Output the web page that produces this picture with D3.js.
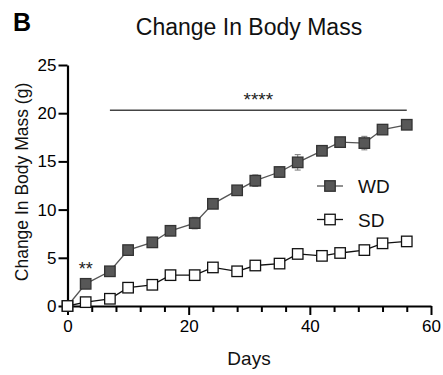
<!DOCTYPE html>
<html><head><meta charset="utf-8">
<script src="https://cdn.jsdelivr.net/npm/d3@7"></script>
<style>body{margin:0;background:#fff}svg{display:block}text{font-family:"Liberation Sans",Arial,sans-serif}</style>
</head><body>
<svg id="c" width="443" height="375"></svg>
<script>
const days = [0,3,7,10,14,17,21,24,28,31,35,38,42,45,49,52,56];
const wdMean = [0,2.3,3.6,5.8,6.6,7.8,8.6,10.6,12.0,13.0,13.9,14.9,16.1,17.0,16.9,18.3,18.8];
const wdSem  = [0.1,0.3,0.3,0.3,0.3,0.3,0.6,0.3,0.4,0.6,0.5,0.8,0.4,0.4,0.7,0.4,0.3];
const sdMean = [0,0.4,0.75,1.9,2.2,3.2,3.2,4.0,3.6,4.2,4.4,5.4,5.2,5.5,5.8,6.5,6.7];
const sdSem  = [0.1,0.2,0.2,0.3,0.3,0.3,0.3,0.3,0.3,0.3,0.3,0.3,0.3,0.3,0.3,0.3,0.3];
const yTicks = [0,5,10,15,20,25];
const xTicks = [0,20,40,60];
const xMinor = [4,8,12,16,24,28,32,36,44,48,52,56];
const series = [
  {name:"WD", mean:wdMean, sem:wdSem, fill:"#575757", stroke:"#333", line:"#555"},
  {name:"SD", mean:sdMean, sem:sdSem, fill:"#fff", stroke:"#111", line:"#111"}
];
const sig = [{x0:7, x1:56, y:20.3, label:"****"}, {x0:3, x1:3, y:4.2, label:"**"}];

const svg = d3.select("#c");
const x = d3.scaleLinear().domain([0,60]).range([67.5,431]);
const y = d3.scaleLinear().domain([0,25]).range([306,65]);

// axes
const ya = svg.append("g").attr("transform","translate(67.5,0)")
  .call(d3.axisLeft(y).tickValues(yTicks).tickSize(9).tickPadding(2).tickSizeOuter(0));
ya.select(".domain").attr("stroke","#000").attr("stroke-width",2.2);
ya.selectAll(".tick line").attr("stroke-width",2);
ya.selectAll("text").attr("font-size",17).attr("fill","#000").attr("font-family","'Liberation Sans',Arial,sans-serif");

const xm = svg.append("g").attr("transform","translate(0,306)")
  .call(d3.axisBottom(x).tickValues(xMinor).tickSize(6).tickFormat("").tickSizeOuter(0));
xm.select(".domain").remove();
xm.selectAll(".tick line").attr("stroke-width",2);
const xa = svg.append("g").attr("transform","translate(0,306)")
  .call(d3.axisBottom(x).tickValues(xTicks).tickSize(9).tickPadding(5).tickSizeOuter(0));
xa.select(".domain").attr("stroke","#000").attr("stroke-width",2.2);
xa.selectAll(".tick line").attr("stroke-width",2);
xa.selectAll("text").attr("font-size",17).attr("fill","#000").attr("font-family","'Liberation Sans',Arial,sans-serif");

// series
const line = d3.line().x((d,i)=>x(days[i])).y(d=>y(d));
const ms = 10.5;
series.forEach(s=>{
  svg.append("path").datum(s.mean).attr("d",line).attr("fill","none").attr("stroke",s.line).attr("stroke-width",1.3);
  const g = svg.append("g");
  g.selectAll("line.eb").data(s.mean).join("line")
    .attr("x1",(d,i)=>x(days[i])).attr("x2",(d,i)=>x(days[i]))
    .attr("y1",(d,i)=>y(d+s.sem[i])).attr("y2",(d,i)=>y(d-s.sem[i]))
    .attr("stroke","#777").attr("stroke-width",1);
  g.selectAll("line.cap").data(s.mean.flatMap((d,i)=>[[i,d+s.sem[i]],[i,d-s.sem[i]]])).join("line")
    .attr("x1",d=>x(days[d[0]])-3).attr("x2",d=>x(days[d[0]])+3)
    .attr("y1",d=>y(d[1])).attr("y2",d=>y(d[1]))
    .attr("stroke","#777").attr("stroke-width",1);
  g.selectAll("rect").data(s.mean).join("rect")
    .attr("x",(d,i)=>x(days[i])-ms/2).attr("y",d=>y(d)-ms/2)
    .attr("width",ms).attr("height",ms)
    .attr("fill",s.fill).attr("stroke",s.stroke).attr("stroke-width",1.3);
});

// significance
svg.append("line").attr("x1",x(sig[0].x0)).attr("x2",x(sig[0].x1))
  .attr("y1",y(sig[0].y)).attr("y2",y(sig[0].y)).attr("stroke","#444").attr("stroke-width",1.5);
svg.append("text").attr("x",(x(sig[0].x0)+x(sig[0].x1))/2).attr("y",y(sig[0].y)-4)
  .attr("text-anchor","middle").attr("font-size",19).attr("fill","#222").text(sig[0].label);
svg.append("text").attr("x",x(sig[1].x0)).attr("y",y(sig[1].y)+9)
  .attr("text-anchor","middle").attr("font-size",18).attr("fill","#222").text(sig[1].label);

// legend
series.forEach((s,i)=>{
  const ly = 186 + i*33.5, lx = 330;
  svg.append("line").attr("x1",lx-13).attr("x2",lx+13).attr("y1",ly).attr("y2",ly).attr("stroke",s.line).attr("stroke-width",1.3);
  svg.append("rect").attr("x",lx-ms/2).attr("y",ly-ms/2).attr("width",ms).attr("height",ms)
    .attr("fill",s.fill).attr("stroke",s.stroke).attr("stroke-width",1.3);
  svg.append("text").attr("x",358).attr("y",ly+7).attr("font-size",19).attr("fill","#111").text(s.name);
});

// titles
svg.append("text").attr("x",13).attr("y",31).attr("font-size",25).attr("font-weight","bold").text("B");
svg.append("text").attr("x",249).attr("y",35).attr("text-anchor","middle").attr("font-size",23).attr("fill","#111").text("Change In Body Mass");
svg.append("text").attr("x",249).attr("y",365).attr("text-anchor","middle").attr("font-size",19).attr("fill","#111").text("Days");
svg.append("text").attr("transform","translate(28,182) rotate(-90)").attr("text-anchor","middle")
  .attr("font-size",17.5).attr("fill","#111").text("Change In Body Mass (g)");
</script>
</body></html>
